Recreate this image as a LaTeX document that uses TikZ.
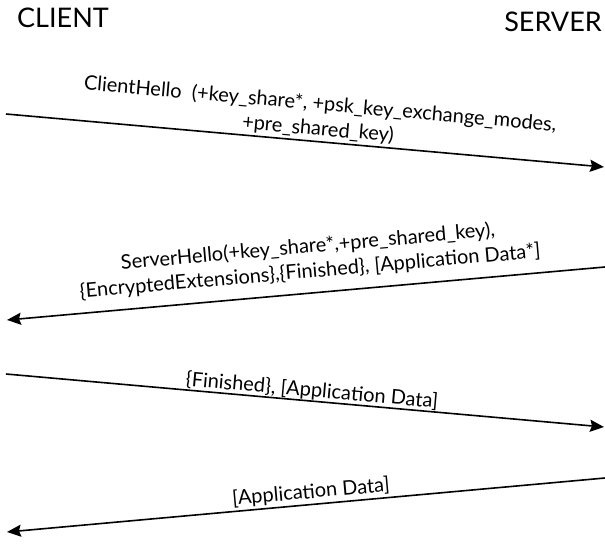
\documentclass[tikz,border=0pt]{standalone}
\usepackage{fontspec}
\setmainfont{Lato}
\usetikzlibrary{arrows.meta}
\tikzset{msg/.style={-{Stealth[length=14pt, width=12pt, inset=2pt]}, line width=1.6pt}}
\tikzset{lbl/.style={sloped, above, align=center, inner sep=2pt,
  font=\fontsize{20}{25}\selectfont}}
\tikzset{party/.style={font=\fontsize{27}{30}\selectfont, inner sep=0pt}}

\begin{document}
\begin{tikzpicture}[x=1pt, y=-1pt]
\useasboundingbox (0, 0) rectangle (605, 544);

\node [party] (client) at (63, 18) {CLIENT};
\node [party] (server) at (553, 22) {SERVER};

\coordinate (c1) at (6, 114);
\coordinate (s1) at (604, 167);
\coordinate (s2) at (605, 267);
\coordinate (c2) at (7, 320);
\coordinate (c3) at (6, 374);
\coordinate (s3) at (604, 427);
\coordinate (s4) at (605, 478);
\coordinate (c4) at (7, 532);

\draw[msg] (c1) -- node [lbl, pos=.52] (hello1) {ClientHello\ \ (+key\_share*, +psk\_key\_exchange\_modes,\\ +pre\_shared\_key)} (s1);
\draw[msg] (s2) -- node [lbl, pos=.49, inner ysep=11pt] (hello2) {ServerHello(+key\_share*,+pre\_shared\_key),\\ \{EncryptedExtensions\},\{Finished\}, [Application Data*]} (c2);
\draw[msg] (c3) -- node [lbl, pos=.51, inner ysep=0pt] (fin) {\{Finished\}, [Application Data]} (s3);
\draw[msg] (s4) -- node [lbl, pos=.49] (data) {[Application Data]} (c4);

\end{tikzpicture}
\end{document}
